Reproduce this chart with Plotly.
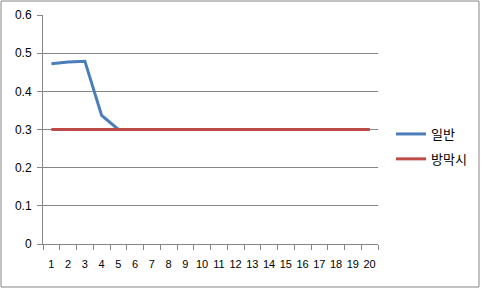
import plotly.graph_objects as go

categories = [str(i) for i in range(1, 21)]
series_normal = [0.472, 0.477, 0.479, 0.337, 0.3] + [0.3] * 15
series_membrane = [0.3] * 20
y_ticks = [0, 0.1, 0.2, 0.3, 0.4, 0.5, 0.6]
names = ["일반", "방막시"]

W, H = 481, 289
L, R, T, B = 43, 103, 15, 45
pw, ph = W - L - R, H - T - B

fig = go.Figure()
fig.add_trace(go.Scatter(x=categories, y=series_normal, mode="lines", name=names[0],
                         legendgroup="a", line=dict(color="#4A7EBB", width=3)))
fig.add_trace(go.Scatter(x=categories, y=series_membrane, mode="lines", name=names[1],
                         legendgroup="b", line=dict(color="#BE4B48", width=3)))

numfont = "Liberation Sans, DejaVu Sans, sans-serif"
fig.update_layout(
    width=W, height=H,
    margin=dict(l=L, r=R, t=T, b=B, autoexpand=False),
    paper_bgcolor="white", plot_bgcolor="white",
    font=dict(family=numfont, size=11, color="#000000"),
    xaxis=dict(type="category", range=[-0.5, 19.5], showgrid=False, showline=True,
               linecolor="#868686", linewidth=1, ticks="outside", tickson="boundaries",
               ticklen=5, tickcolor="#868686", zeroline=False, tickangle=0,
               ticklabelstandoff=10, tickfont=dict(size=11, family=numfont)),
    yaxis=dict(range=[0, 0.6], tickvals=y_ticks, ticktext=[f"{v:g}" for v in y_ticks],
               showgrid=True, gridcolor="#868686", gridwidth=1, showline=True,
               linecolor="#868686", linewidth=1, ticks="outside", ticklen=5,
               tickcolor="#868686", zeroline=False, ticklabelstandoff=3,
               tickfont=dict(size=12, family=numfont)),
    legend=dict(x=(391 - L) / pw, y=(H - B - 119) / ph, xanchor="left", yanchor="top",
                font=dict(size=13, family="Noto Sans CJK KR, sans-serif"),
                bgcolor="rgba(0,0,0,0)", tracegroupgap=5, itemwidth=30),
    showlegend=True,
    shapes=[dict(type="rect", xref="paper", yref="paper",
                 x0=(1 - L) / pw, x1=(W - 2 - L) / pw,
                 y0=-(H - 2 - (H - B)) / ph, y1=(H - B - 1) / ph,
                 line=dict(color="#868686", width=1), fillcolor="rgba(0,0,0,0)")],
)
fig.write_html("out.html")
